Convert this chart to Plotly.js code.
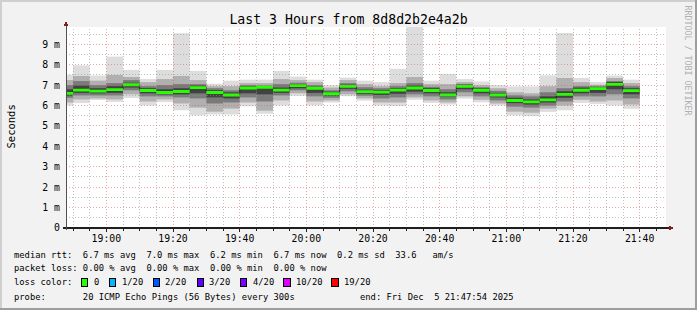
<!DOCTYPE html>
<html><head><meta charset="utf-8">
<script src="https://cdn.plot.ly/plotly-3.0.1.min.js"></script>
<style>html,body{margin:0;padding:0;background:#f2f2f2;}#chart{width:697px;height:310px;}
.shapelayer path{shape-rendering:crispEdges;}</style>
</head><body><div id="chart"></div>
<script>
// ---------------- DATA (ms) ----------------
const day = '2025-12-05';
const intervalStart = ['18:45','18:50','18:55','19:00','19:05','19:10','19:15','19:20','19:25','19:30',
  '19:35','19:40','19:45','19:50','19:55','20:00','20:05','20:10','20:15','20:20',
  '20:25','20:30','20:35','20:40','20:45','20:50','20:55','21:00','21:05','21:10',
  '21:15','21:20','21:25','21:30','21:35'];
const median = [6.60,6.76,6.71,6.78,7.02,6.74,6.64,6.69,6.88,6.64, 6.52,6.86,6.90,6.76,6.98,6.85,6.58,6.94,6.68,6.66,
  6.76,6.86,6.74,6.52,6.94,6.75,6.52,6.25,6.18,6.28, 6.55,6.75,6.83,7.04,6.73];
const pingMin = [6.00,6.12,6.27,6.18,6.37,6.00,6.17,5.77,5.52,5.56, 5.56,5.97,5.60,6.00,6.48,6.01,6.15,6.46,6.24,6.00,
  5.98,6.29,6.13,6.05,6.34,6.16,6.00,5.52,5.48,5.69, 5.77,6.13,6.08,6.00,5.84];
const pingMax = [7.51,7.97,7.47,8.40,7.75,7.30,7.75,9.54,7.70,7.07, 7.22,7.27,7.27,7.70,7.42,7.27,7.00,7.37,7.22,7.15,
  7.80,9.95,7.22,7.55,7.30,7.18,7.00,6.94,6.94,7.48, 9.55,7.35,7.15,7.47,7.27];
const lo2 = [6.15,6.30,6.35,6.30,6.55,6.20,6.30,6.10,5.90,5.70, 5.85,6.15,5.75,6.25,6.60,6.20,6.25,6.55,6.35,6.15,
  6.15,6.40,6.25,6.15,6.45,6.28,6.10,5.70,5.65,5.85, 6.00,6.28,6.20,6.25,6.05];
const hi2 = [7.25,7.45,7.22,7.50,7.40,7.15,7.30,7.45,7.25,6.95, 6.95,7.10,7.10,7.30,7.25,7.15,6.88,7.25,7.05,6.95,
  7.10,7.40,7.05,7.05,7.15,7.00,6.85,6.65,6.60,6.95, 7.35,7.15,7.02,7.35,7.10];
const lo3 = [6.38,6.50,6.50,6.50,6.75,6.45,6.45,6.40,6.35,6.10, 6.15,6.40,6.20,6.50,6.75,6.45,6.38,6.70,6.48,6.35,
  6.40,6.55,6.45,6.30,6.65,6.45,6.25,5.95,5.90,6.00, 6.20,6.45,6.45,6.55,6.35];
const hi3 = [7.00,7.20,7.00,7.10,7.25,6.95,7.00,7.05,7.05,6.85, 6.75,7.00,6.98,7.05,7.12,7.00,6.75,7.10,6.90,6.85,
  6.95,7.10,6.92,6.80,7.05,6.90,6.72,6.50,6.45,6.65, 6.85,6.95,6.95,7.20,6.95];
const lo4 = [6.48,6.62,6.60,6.62,6.88,6.60,6.55,6.55,6.60,6.40, 6.35,6.60,6.55,6.62,6.85,6.62,6.48,6.82,6.58,6.52,
  6.58,6.68,6.60,6.42,6.80,6.60,6.40,6.12,6.05,6.15, 6.38,6.60,6.62,6.80,6.55];
const hi4 = [6.80,6.98,6.85,6.95,7.12,6.85,6.80,6.85,6.98,6.75, 6.65,6.95,6.95,6.88,7.05,6.92,6.68,7.02,6.78,6.75,
  6.85,6.98,6.85,6.65,7.02,6.85,6.62,6.38,6.30,6.45, 6.70,6.88,6.90,7.15,6.85];
const yTickVals = [0,1,2,3,4,5,6,7,8,9];
const yTickText = ['0','1 m','2 m','3 m','4 m','5 m','6 m','7 m','8 m','9 m'];
const lossLabels = ['0','1/20','2/20','3/20','4/20','10/20','19/20'];
const lossColors = ['#26ff00','#00b8ff','#0059ff','#5e00ff','#7e00ff','#dd00ff','#ff0000'];
const titleText = 'Last 3 Hours from 8d8d2b2e4a2b';
const legendLines = [
  'median rtt:  6.7 ms avg  7.0 ms max  6.2 ms min  6.7 ms now  0.2 ms sd  33.6   am/s',
  'packet loss: 0.00 % avg  0.00 % max  0.00 % min  0.00 % now',
  'loss color:',
  'probe:       20 ICMP Echo Pings (56 Bytes) every 300s'
];
const endText = 'end: Fri Dec  5 21:47:54 2025';

// ---------------- LAYOUT / STYLE ----------------
const W = 697, H = 310;
const M = {l: 66, r: 31, t: 27, b: 82};
const PW = W - M.l - M.r, PH = H - M.t - M.b;
const px2x = px => (px - M.l) / PW;
const py2y = py => (H - M.b - py) / PH;
const MONO = 'DejaVu Sans Mono';
const STEP_MS = 300000;
const HALF_BAND = 0.07; // half thickness of the loss-colour median band (ms)

const ts = t => day + ' ' + t + ':00';
const xs = intervalStart.map(ts);
const toMin = t => { const p = t.split(':'); return (+p[0]) * 60 + (+p[1]); };
const fromMin = m => String(Math.floor(m / 60)).padStart(2, '0') + ':' + String(m % 60).padStart(2, '0');
const endMin = toMin(intervalStart[intervalStart.length - 1]) + 5;
const xsStep = xs.concat([ts(fromMin(endMin))]);
const stepVals = arr => arr.concat([arr[arr.length - 1]]);

const bands = [
  {lo: pingMin, hi: pingMax, color: '#dddddd'},
  {lo: lo2, hi: hi2, color: '#b0b0b0'},
  {lo: lo3, hi: hi3, color: '#7a7a7a'},
  {lo: lo4, hi: hi4, color: '#424242'}
];
const traces = bands.map(b => ({
  type: 'bar', x: xs, base: b.lo, y: b.hi.map((v, i) => v - b.lo[i]),
  width: STEP_MS, offset: 0, marker: {color: b.color, line: {width: 0}},
  hoverinfo: 'skip', showlegend: false
}));
traces.push({
  type: 'scatter', mode: 'lines', x: xsStep, y: stepVals(median),
  line: {color: '#202020', width: 1, shape: 'hv'}, hoverinfo: 'skip', showlegend: false
});
traces.push({
  type: 'scatter', mode: 'lines', x: xsStep, y: stepVals(median).map(v => v - HALF_BAND),
  line: {width: 0, shape: 'hv'}, hoverinfo: 'skip', showlegend: false
});
traces.push({
  type: 'scatter', mode: 'lines', x: xsStep, y: stepVals(median).map(v => v + HALF_BAND),
  line: {width: 0, shape: 'hv'}, fill: 'tonexty', fillcolor: lossColors[0],
  hoverinfo: 'skip', showlegend: false
});

// grid on top of data (as rrdtool does)
const shapes = [];
const GRID = 'rgba(143,143,143,0.55)', MGRID = 'rgba(222,79,79,0.5)';
const DASH = '1px,2px';
const startMin = toMin('18:50'), lastGrid = toMin('21:45');
for (let m = startMin; m <= lastGrid; m += 5) {
  const major = (m % 20 === 0);
  shapes.push({type: 'line', layer: 'above', xref: 'x', yref: 'paper', x0: ts(fromMin(m)), x1: ts(fromMin(m)), y0: 0, y1: 1,
    line: {color: major ? MGRID : GRID, width: 1, dash: DASH}});
}
for (let k = 1; k <= 19; k++) {
  const v = k * 0.5, major = (k % 2 === 0);
  shapes.push({type: 'line', layer: 'above', xref: 'paper', yref: 'y', x0: 0, x1: 1, y0: v, y1: v,
    line: {color: major ? MGRID : GRID, width: 1, dash: DASH}});
}
// axes with arrows
shapes.push({type: 'line', layer: 'above', xref: 'paper', yref: 'paper', x0: px2x(63), x1: px2x(670), y0: 0, y1: 0,
  line: {color: '#1f1f1f', width: 1.5}});
shapes.push({type: 'line', layer: 'above', xref: 'paper', yref: 'paper', x0: 0, x1: 0, y0: py2y(230), y1: py2y(24),
  line: {color: '#505050', width: 1}});
const tri = pts => 'M ' + pts.map(p => px2x(p[0]) + ' ' + py2y(p[1])).join(' L ') + ' Z';
shapes.push({type: 'path', layer: 'above', xref: 'paper', yref: 'paper', path: tri([[669, 225.5], [674, 228], [669, 230.5]]),
  fillcolor: '#801f1f', line: {width: 0}});
shapes.push({type: 'path', layer: 'above', xref: 'paper', yref: 'paper', path: tri([[63.5, 26], [66, 21], [68.5, 26]]),
  fillcolor: '#801f1f', line: {width: 0}});
// frame
const rectPx = (x0, y0, x1, y1, c) => ({type: 'rect', layer: 'above', xref: 'paper', yref: 'paper',
  x0: px2x(x0), x1: px2x(x1), y0: py2y(y1), y1: py2y(y0), fillcolor: c, line: {width: 0}});
shapes.push(rectPx(0, 0, W, 2, '#cfcfcf'));
shapes.push(rectPx(0, 0, 2, H, '#cfcfcf'));
shapes.push(rectPx(W - 2, 0, W, H, '#9e9e9e'));
shapes.push(rectPx(0, H - 2, W, H, '#9e9e9e'));

// legend squares
const lossBoxX = [81, 109, 153, 197, 240, 283.5, 331.5];
const lossTextX = [92.3, 120, 163.3, 207.3, 250.7, 294, 342.3];
lossColors.forEach((c, i) => shapes.push({type: 'rect', layer: 'above', xref: 'paper', yref: 'paper',
  x0: px2x(lossBoxX[i]), x1: px2x(lossBoxX[i] + 6.5), y0: py2y(286), y1: py2y(278),
  fillcolor: c, line: {color: '#000000', width: 1}}));

const nb = s => s.replace(/ /g, '\u00a0');
const ann = (text, x, y, size, extra) => Object.assign({text: nb(text), xref: 'paper', yref: 'paper',
  x: px2x(x), y: py2y(y), xanchor: 'left', yanchor: 'middle', showarrow: false,
  font: {family: MONO, size: size, color: '#000000'}}, extra || {});
const lineY = [254.7, 268.3, 282.3, 296.5];
const annotations = legendLines.map((t, i) => ann(t, 12.3, lineY[i], 8.8));
lossLabels.forEach((t, i) => annotations.push(ann(t, lossTextX[i], lineY[2], 8.8)));
annotations.push(ann(endText, 358.3, lineY[3], 8.8));
annotations.push(ann('Seconds', 10.5, 127, 10.5, {xanchor: 'center', textangle: -90}));
annotations.push(ann('RRDTOOL / TOBI OETIKER', 687.5, 60, 8.3,
  {xanchor: 'center', textangle: 90, font: {family: MONO, size: 8.3, color: '#b0b0b0'}}));

const layout = {
  width: W, height: H, margin: M,
  paper_bgcolor: '#f2f2f2', plot_bgcolor: '#ffffff',
  barmode: 'overlay', showlegend: false,
  title: {text: titleText, font: {family: MONO, size: 13.2, color: '#000000'},
    x: 0.5, xref: 'container', xanchor: 'center', y: 1 - 19.5 / H, yref: 'container', yanchor: 'middle'},
  xaxis: {type: 'date', range: [day + ' 18:47:54', day + ' 21:47:54'],
    tick0: ts('19:00'), dtick: 1200000, tickformat: '%H:%M',
    showgrid: false, zeroline: false, showline: false,
    ticks: 'outside', ticklen: 3, tickwidth: 1, tickcolor: '#1f1f1f', ticklabelstandoff: -2,
    minor: {ticks: 'outside', ticklen: 2, dtick: STEP_MS, tick0: ts('18:50'), tickcolor: '#1f1f1f', showgrid: false},
    tickfont: {family: MONO, size: 9.8, color: '#000000'}, fixedrange: true},
  yaxis: {range: [0, 9.85], tickvals: yTickVals, ticktext: yTickText,
    showgrid: false, zeroline: false, showline: false, ticks: '', ticklabelstandoff: 5,
    tickfont: {family: MONO, size: 9.8, color: '#000000'}, fixedrange: true},
  shapes: shapes, annotations: annotations
};
Plotly.newPlot('chart', traces, layout, {staticPlot: true, displayModeBar: false});
</script></body></html>
